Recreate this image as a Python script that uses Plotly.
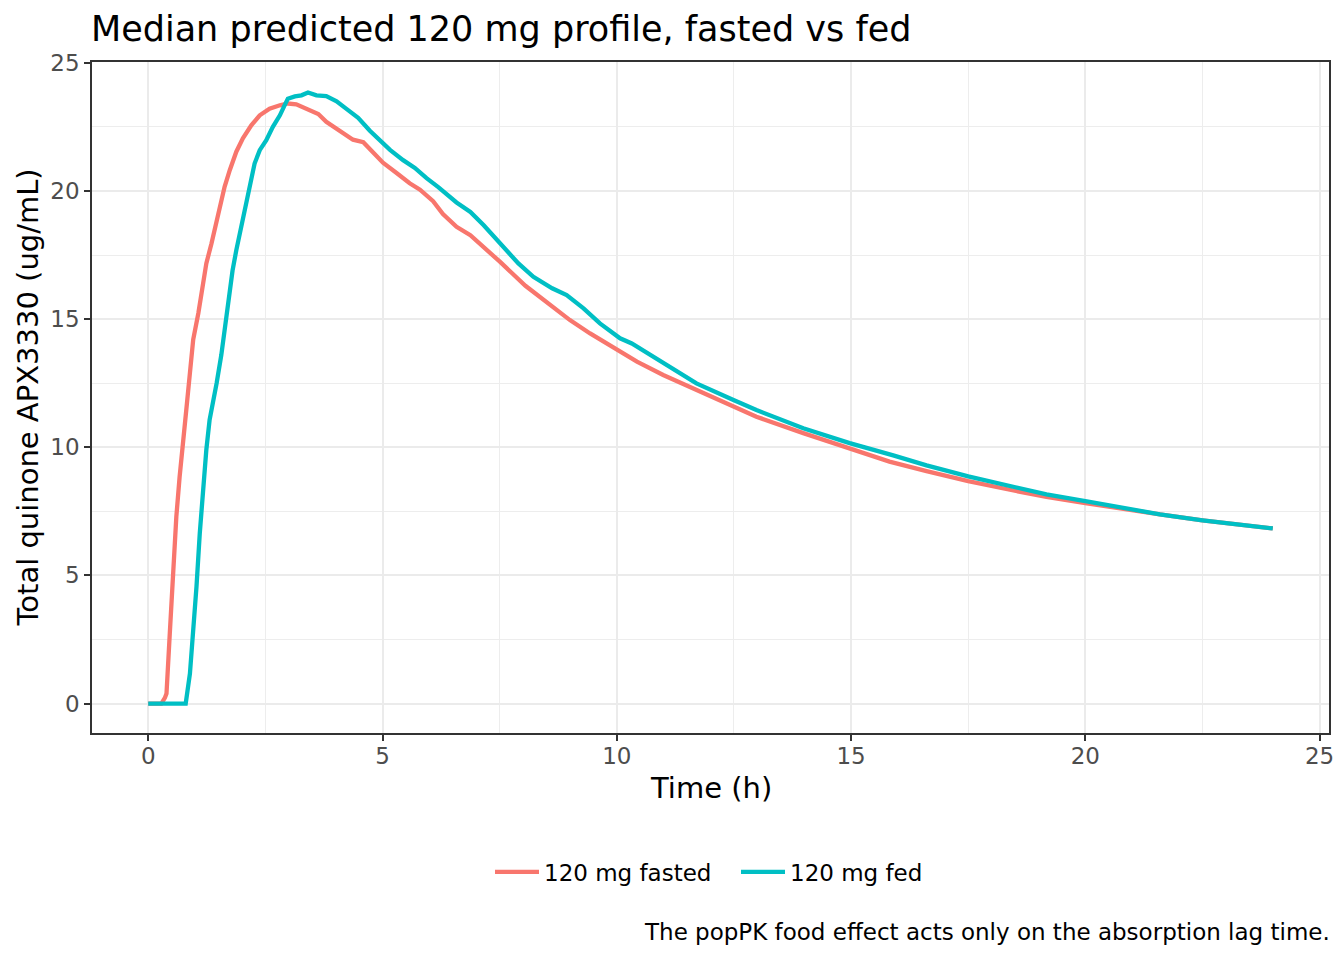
import plotly.graph_objects as go

# ---- data ----
time_fasted = [0, 0.28, 0.355, 0.39, 0.46, 0.53, 0.60, 0.67, 0.75, 0.82, 0.89, 0.96, 1.07, 1.14, 1.24,
               1.35, 1.46, 1.56, 1.63, 1.74, 1.88, 2.02, 2.20, 2.38, 2.59, 2.81, 2.98, 3.16, 3.30, 3.44,
               3.63, 3.80, 4.09, 4.37, 4.59, 4.80, 5.01, 5.30, 5.58, 5.80, 6.08, 6.29, 6.58, 6.875, 7.16,
               7.51, 8.05, 8.5, 9.0, 9.43, 10.0, 10.43, 10.99, 11.70, 12.41, 12.98, 13.98, 14.97, 15.82,
               16.61, 17.5, 18.39, 19.17, 20.0, 20.88, 21.59, 22.5, 23.23, 24.0]
conc_fasted = [0, 0, 0.22, 0.39, 2.73, 5.08, 7.29, 8.85, 10.55, 11.6, 12.9, 14.2, 15.23, 16.14, 17.17,
               17.95, 18.86, 19.5, 20.16, 20.81, 21.53, 22.05, 22.56, 22.95, 23.21, 23.34, 23.41, 23.38,
               23.28, 23.15, 23.0, 22.7, 22.35, 22.0, 21.9, 21.5, 21.1, 20.7, 20.3, 20.05, 19.6, 19.1,
               18.6, 18.27, 17.82, 17.23, 16.3, 15.68, 14.96, 14.44, 13.8, 13.34, 12.82, 12.23, 11.65,
               11.19, 10.55, 9.96, 9.44, 9.07, 8.68, 8.34, 8.06, 7.82, 7.56, 7.38, 7.15, 6.98, 6.83]

time_fed = [0, 0.80, 0.89, 0.96, 1.03, 1.10, 1.17, 1.24, 1.31, 1.38, 1.46, 1.56, 1.65, 1.72, 1.80,
            1.88, 2.02, 2.17, 2.27, 2.38, 2.52, 2.66, 2.81, 2.91, 2.98, 3.13, 3.27, 3.41, 3.59, 3.80,
            4.02, 4.23, 4.48, 4.73, 4.98, 5.16, 5.44, 5.69, 5.94, 6.19, 6.58, 6.875, 7.16, 7.51, 7.90,
            8.22, 8.62, 8.93, 9.29, 9.64, 10.07, 10.32, 10.71, 11.14, 11.70, 12.49, 12.98, 13.98, 14.97,
            15.9, 16.61, 17.5, 18.39, 19.17, 20.0, 20.88, 21.59, 22.5, 23.23, 24.0]
conc_fed = [0, 0, 1.17, 2.73, 4.56, 6.64, 8.33, 9.9, 11.07, 11.7, 12.5, 13.6, 14.8, 15.9, 16.9,
            17.69, 18.86, 20.16, 21.07, 21.59, 21.98, 22.5, 22.95, 23.34, 23.6, 23.69, 23.73, 23.84,
            23.73, 23.7, 23.5, 23.2, 22.85, 22.35, 21.9, 21.6, 21.2, 20.9, 20.5, 20.15, 19.55, 19.18,
            18.66, 17.95, 17.17, 16.65, 16.2, 15.94, 15.42, 14.83, 14.25, 14.05, 13.6, 13.12, 12.49,
            11.84, 11.45, 10.74, 10.16, 9.68, 9.29, 8.86, 8.47, 8.16, 7.9, 7.6, 7.38, 7.15, 6.98, 6.83]

series_names = ["120 mg fasted", "120 mg fed"]
series_colors = ["#F8766D", "#00BFC4"]
x_ticks = [0, 5, 10, 15, 20, 25]
y_ticks = [0, 5, 10, 15, 20, 25]

title_text = "Median predicted 120 mg profile, fasted vs fed"
x_title = "Time (h)"
y_title = "Total quinone APX3330 (ug/mL)"
caption = "The popPK food effect acts only on the absorption lag time."

FONT = "DejaVu Sans"

fig = go.Figure()
for t, c, name, col in [(time_fasted, conc_fasted, series_names[0], series_colors[0]),
                        (time_fed, conc_fed, series_names[1], series_colors[1])]:
    fig.add_trace(go.Scatter(x=t, y=c, mode="lines", name=name,
                             line=dict(color=col, width=4.3)))

# page body adds an 8px margin, so the figure is laid out 8px smaller/shifted
OFF = 8
W, H = 1344 - OFF, 960 - OFF
L, R, T, B = 92 - OFF, W - (1329 - OFF), 62 - OFF, H - (733 - OFF)
pw = W - L - R
ph = H - T - B

def py(ref_px):
    return (H - B - (ref_px - OFF)) / ph

def px_(ref_px):
    return ((ref_px - OFF) - L) / pw

axis_common = dict(
    showgrid=True, gridcolor="#EBEBEB", gridwidth=2,
    zeroline=False,
    showline=True, mirror=True, linecolor="#333333", linewidth=1.5,
    ticks="outside", ticklen=6, tickwidth=2, tickcolor="#333333",
    tickfont=dict(family=FONT, size=23, color="#4D4D4D"),
    minor=dict(dtick=2.5, showgrid=True, gridcolor="#EDEDED", gridwidth=1.2, ticks=""),
)

fig.update_layout(
    width=W, height=H,
    autosize=False,
    paper_bgcolor="white", plot_bgcolor="white",
    margin=dict(l=L, r=R, t=T, b=B, autoexpand=False),
    font=dict(family=FONT, color="black"),
    xaxis=dict(range=[-1.2, 25.2], tickvals=x_ticks, ticktext=[str(v) for v in x_ticks],
               ticklabelstandoff=-4, **axis_common),
    yaxis=dict(range=[-1.15, 25.03], tickvals=y_ticks, ticktext=[str(v) for v in y_ticks],
               **axis_common),
    showlegend=True,
    legend=dict(orientation="h", x=px_(736), xanchor="center", y=py(872), yanchor="middle",
                font=dict(family=FONT, size=23, color="black"), bgcolor="rgba(0,0,0,0)",
                itemwidth=44, entrywidth=187, entrywidthmode="pixels"),
    annotations=[
        dict(text=title_text, xref="paper", yref="paper", x=0, xanchor="left", xshift=-3,
             y=py(29), yanchor="middle", showarrow=False,
             font=dict(family=FONT, size=35, color="black")),
        dict(text=x_title, xref="paper", yref="paper", x=0.5, xanchor="center",
             y=py(788), yanchor="middle", showarrow=False,
             font=dict(family=FONT, size=29, color="black")),
        dict(text=y_title, xref="paper", yref="paper", x=px_(27), xanchor="center",
             y=0.5, yanchor="middle", showarrow=False, textangle=-90,
             font=dict(family=FONT, size=29, color="black")),
        dict(text=caption, xref="paper", yref="paper", x=1, xanchor="right", xshift=3,
             y=py(932), yanchor="middle", showarrow=False,
             font=dict(family=FONT, size=23, color="black")),
    ],
)

fig.write_html("out.html")
